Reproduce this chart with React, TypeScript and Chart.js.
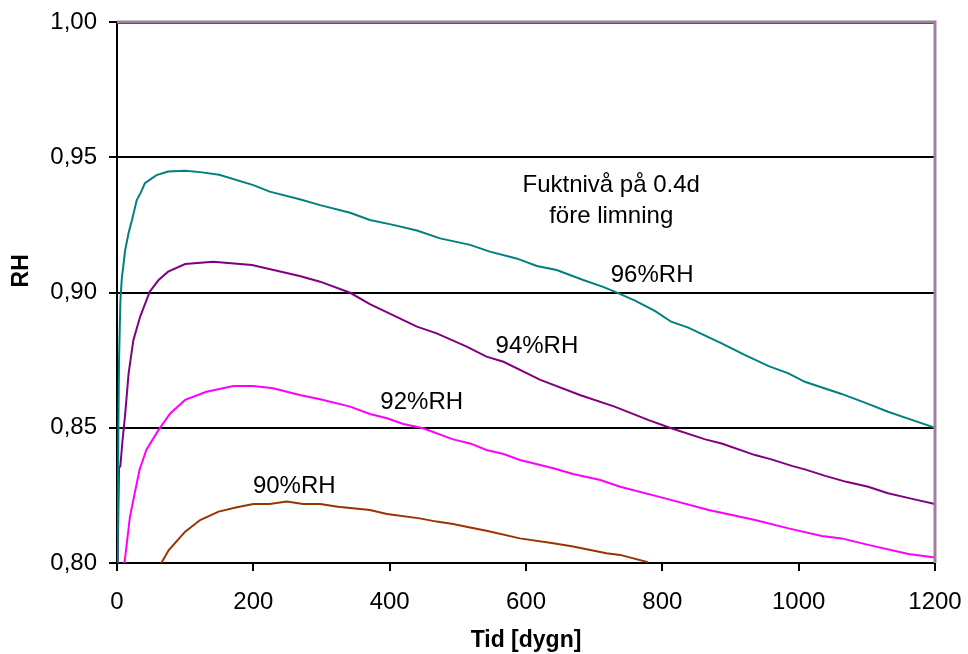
import React, { useEffect, useRef } from "react";
import { Chart, registerables } from "chart.js";

Chart.register(...registerables);

// ---- Data ----
const rh96X = [1, 2, 3, 5, 7, 12, 17, 22, 29, 35, 41, 50, 58, 75, 100, 122, 150, 200, 224, 268, 298, 342, 371, 405, 440, 474, 518, 547, 586, 616, 645, 684, 713, 730, 760, 789, 813, 838, 887, 920, 956, 985, 1009, 1063, 1100, 1131, 1165, 1200];
const rh96Y = [0.8, 0.85, 0.875, 0.897, 0.905, 0.9157, 0.922, 0.9268, 0.9342, 0.937, 0.9404, 0.942, 0.9434, 0.9447, 0.945, 0.9445, 0.9435, 0.9397, 0.9373, 0.9345, 0.9323, 0.9295, 0.9268, 0.925, 0.9229, 0.92, 0.9176, 0.9151, 0.9126, 0.9098, 0.9083, 0.9046, 0.9021, 0.9003, 0.897, 0.8932, 0.8892, 0.887, 0.8812, 0.877, 0.8728, 0.8701, 0.867, 0.8625, 0.859, 0.8559, 0.853, 0.85];

const rh94X = [1, 2, 3, 5, 6, 8, 12, 17, 24, 34, 48, 61, 75, 100, 141, 198, 268, 298, 342, 371, 440, 469, 513, 542, 567, 621, 680, 730, 779, 813, 863, 887, 936, 960, 990, 1009, 1039, 1070, 1102, 1131, 1165, 1200];
const rh94Y = [0.8, 0.82, 0.835, 0.836, 0.839, 0.845, 0.855, 0.87, 0.8824, 0.8911, 0.9003, 0.9046, 0.9077, 0.9105, 0.9114, 0.9102, 0.9061, 0.904, 0.8999, 0.8957, 0.8874, 0.8849, 0.88, 0.8763, 0.8744, 0.8677, 0.862, 0.8578, 0.8529, 0.8498, 0.8457, 0.8442, 0.8399, 0.8383, 0.8359, 0.8346, 0.8322, 0.83, 0.8282, 0.8258, 0.8238, 0.8218];

const rh92X = [11, 19, 26, 33, 43, 61, 78, 100, 131, 171, 200, 229, 268, 298, 342, 371, 396, 420, 449, 493, 518, 542, 567, 591, 640, 669, 709, 738, 804, 868, 936, 985, 1034, 1063, 1102, 1161, 1200];
const rh92Y = [0.8, 0.8171, 0.8258, 0.8344, 0.8418, 0.8492, 0.8553, 0.8603, 0.8633, 0.8654, 0.8654, 0.8646, 0.8621, 0.8605, 0.8578, 0.8551, 0.8535, 0.8514, 0.8498, 0.8457, 0.8442, 0.8418, 0.8403, 0.8381, 0.835, 0.8329, 0.8307, 0.8282, 0.8239, 0.8196, 0.8159, 0.8128, 0.81, 0.8091, 0.8067, 0.8033, 0.802];

const rh90X = [65, 76, 100, 122, 149, 176, 200, 224, 249, 273, 298, 324, 371, 396, 444, 469, 493, 518, 542, 591, 640, 669, 718, 738, 779];
const rh90Y = [0.8, 0.8048, 0.8116, 0.8159, 0.819, 0.8206, 0.8218, 0.8218, 0.8227, 0.8218, 0.8218, 0.8208, 0.8196, 0.8181, 0.8165, 0.8153, 0.8144, 0.8131, 0.8119, 0.8091, 0.8073, 0.8061, 0.8036, 0.803, 0.8003];

const seriesNames = ["96%RH", "94%RH", "92%RH", "90%RH"];
const seriesColors = ["#008080", "#800080", "#ff00ff", "#993300"];

// Curve labels placed in data units
const labelTexts = ["96%RH", "94%RH", "92%RH", "90%RH", "Fuktnivå på 0.4d", "före limning"];
const labelX = [785, 616, 447, 260, 725, 725];
const labelY = [0.9065, 0.8802, 0.8595, 0.8285, 0.9397, 0.9283];

const xTitle = "Tid [dygn]";
const yTitle = "RH";
const yTitleValue = 0.908; // vertical position of the y-axis title, in data units

const FONT = "'Liberation Sans', Arial, sans-serif";

const toPoints = (xs: number[], ys: number[]) => xs.map((x, i) => ({ x, y: ys[i] }));

export default function App() {
  const canvasRef = useRef<HTMLCanvasElement | null>(null);

  useEffect(() => {
    document.body.style.margin = "0";
    const canvas = canvasRef.current;
    if (!canvas) return;

    const annotations = {
      id: "annotations",
      afterDatasetsDraw(chart: any) {
        const { ctx, chartArea, scales } = chart;
        ctx.save();
        // top and right frame
        ctx.strokeStyle = "#9e809e";
        ctx.lineWidth = 3;
        ctx.beginPath();
        ctx.moveTo(chartArea.left, chartArea.top);
        ctx.lineTo(chartArea.right, chartArea.top);
        ctx.lineTo(chartArea.right, chartArea.bottom);
        ctx.stroke();
        ctx.strokeStyle = "#555555";
        ctx.lineWidth = 1;
        ctx.beginPath();
        ctx.moveTo(chartArea.left, chartArea.top + 1.5);
        ctx.lineTo(chartArea.right - 1.5, chartArea.top + 1.5);
        ctx.stroke();
        // labels
        ctx.fillStyle = "#000";
        ctx.font = `24px ${FONT}`;
        ctx.textAlign = "center";
        ctx.textBaseline = "middle";
        labelTexts.forEach((t, i) => {
          ctx.fillText(t, scales.x.getPixelForValue(labelX[i]), scales.y.getPixelForValue(labelY[i]));
        });
        // y axis title
        ctx.font = `bold 23px ${FONT}`;
        ctx.translate(22, scales.y.getPixelForValue(yTitleValue));
        ctx.rotate(-Math.PI / 2);
        ctx.fillText(yTitle, 0, 0);
        ctx.restore();
      },
    };

    const chart = new Chart(canvas, {
      type: "line",
      data: {
        datasets: [
          { label: seriesNames[0], data: toPoints(rh96X, rh96Y) },
          { label: seriesNames[1], data: toPoints(rh94X, rh94Y) },
          { label: seriesNames[2], data: toPoints(rh92X, rh92Y) },
          { label: seriesNames[3], data: toPoints(rh90X, rh90Y) },
        ].map((d, i) => ({
          ...d,
          borderColor: seriesColors[i],
          backgroundColor: seriesColors[i],
          borderWidth: 2,
          pointRadius: 0,
          tension: 0,
          fill: false,
        })),
      },
      options: {
        animation: false,
        responsive: false,
        maintainAspectRatio: false,
        layout: { padding: { left: 0, top: 22, right: 33, bottom: 0 } },
        plugins: {
          legend: { display: false },
          tooltip: { enabled: false },
        },
        scales: {
          x: {
            type: "linear",
            min: 0,
            max: 1200,
            afterFit: (s: any) => {
              s.height = 91;
              s.paddingLeft = 0;
              s.paddingRight = 0;
              s.paddingTop = 0;
              s.paddingBottom = 0;
            },
            ticks: {
              stepSize: 200,
              color: "#000",
              padding: 17,
              font: { family: FONT, size: 24 },
              maxRotation: 0,
              callback: (v: any) => String(v),
            },
            grid: {
              drawOnChartArea: false,
              drawTicks: true,
              tickLength: 8,
              color: "#000",
              tickColor: "#000",
              lineWidth: 2,
            },
            border: { color: "#000", width: 2 },
            title: {
              display: true,
              text: xTitle,
              color: "#000",
              font: { family: FONT, size: 23, weight: "bold" },
              padding: { top: 0, bottom: 0 },
            },
          },
          y: {
            type: "linear",
            min: 0.8,
            max: 1.0,
            afterFit: (s: any) => {
              s.width = 117;
              s.paddingLeft = 0;
              s.paddingRight = 0;
              s.paddingTop = 0;
              s.paddingBottom = 0;
            },
            ticks: {
              stepSize: 0.05,
              color: "#000",
              padding: 12,
              font: { family: FONT, size: 24 },
              callback: (v: any) => Number(v).toFixed(2).replace(".", ","),
            },
            grid: {
              drawTicks: true,
              tickLength: 8,
              color: (c: any) => {
                const v = c.tick ? c.tick.value : 0;
                return v > 0.81 && v < 0.99 ? "#000" : "rgba(0,0,0,0)";
              },
              tickColor: "#000",
              lineWidth: 2,
            },
            border: { color: "#000", width: 2 },
            title: { display: false },
          },
        },
      },
      plugins: [annotations],
    });

    return () => chart.destroy();
  }, []);

  return (
    <div style={{ position: "absolute", left: 0, top: 0, width: 968, height: 654, background: "#fff" }}>
      <canvas ref={canvasRef} width={968} height={654} style={{ width: 968, height: 654, display: "block" }} />
    </div>
  );
}
